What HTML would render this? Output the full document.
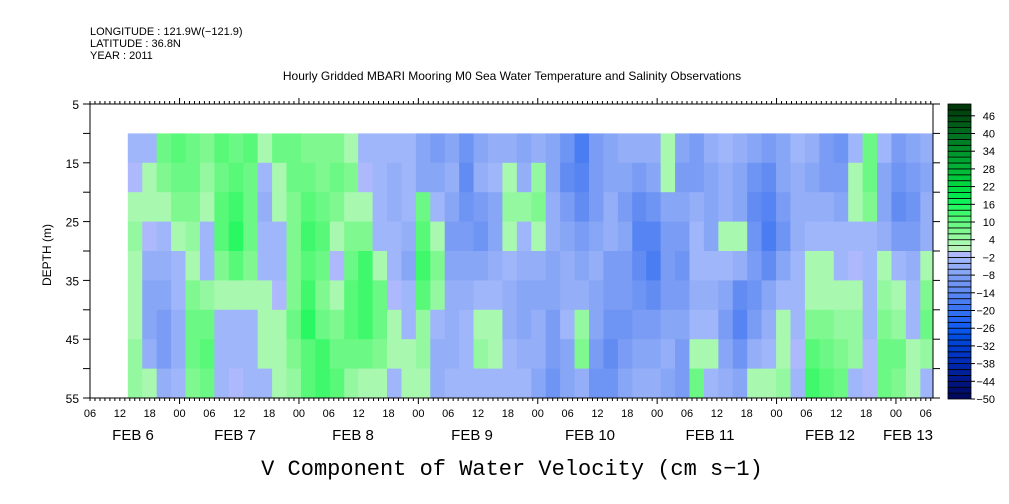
<!DOCTYPE html>
<html><head><meta charset="utf-8">
<style>
html,body{margin:0;padding:0;background:#fff;}
svg{display:block;font-family:"Liberation Sans",sans-serif;}
</style></head>
<body>
<svg id="chart" width="1009" height="504" viewBox="0 0 1009 504" xmlns="http://www.w3.org/2000/svg">
  <g font-size="11" fill="#000">
    <text x="90" y="35">LONGITUDE : 121.9W(−121.9)</text>
    <text x="90" y="47">LATITUDE : 36.8N</text>
    <text x="90" y="59">YEAR : 2011</text>
  </g>
  <text x="512" y="80" font-size="12" text-anchor="middle">Hourly Gridded MBARI Mooring M0 Sea Water Temperature and Salinity Observations</text>
  <text x="0" y="0" font-size="12" text-anchor="middle" transform="translate(51,255) rotate(-90)">DEPTH (m)</text>
  <text x="512" y="475" font-size="22" text-anchor="middle" font-family="Liberation Mono, monospace">V Component of Water Velocity (cm s−1)</text>
  <g id="cells"></g>
  <g id="axes"></g>
  <g id="cbar"></g>
</svg>
<script>
// column start times: hours after Feb 6 00:00
const times = [13.6,16.5,19.4,22.3,25.2,28.1,31.0,33.9,36.8,39.7,42.6,45.5,48.4,51.3,54.2,57.1,59.9,62.8,65.7,68.6,71.5,74.4,77.3,80.2,83.1,86.0,88.9,91.8,94.7,97.6,100.5,103.4,106.3,109.2,112.1,115.0,117.8,120.7,123.6,126.5,129.4,132.3,135.2,138.1,141.0,143.9,146.8,149.7,152.6,155.5,158.4,161.3,164.2,167.1,170.0,172.9];
const depthEdges = [10,15,20,25,30,35,40,45,50,55];
// values per column (top to bottom depth rows), cm/s
const values = [
[-4,-2,3,4,2,3,3,4,4],[-4,2,3,-2,-6,-8,-8,-6,3],[8,6,3,-4,-6,-8,-10,-10,-6],[10,8,6,3,-4,-4,-6,-6,-4],
[8,8,6,5,3,6,8,8,6],[6,5,3,-3,-4,4,8,10,8],[10,8,10,10,6,3,-3,-4,-4],[8,10,12,14,10,3,-3,-4,-2],
[10,8,8,8,6,3,-3,-4,-4],[3,-4,-6,-4,-4,3,3,3,-4],[8,3,3,-4,-4,-2,3,3,2],[8,8,6,6,6,6,8,6,4],
[6,8,10,12,10,12,14,10,10],[6,6,8,10,8,6,8,12,12],
[6,8,6,3,-2,3,6,8,10],[3,6,3,6,8,10,10,8,4],[-4,-2,3,6,12,12,12,8,3],[-4,-4,-4,-3,3,8,8,6,3],
[-4,-6,-6,-4,-4,-2,3,3,-4],[-4,-4,-4,-6,-8,-4,-4,3,3],[-8,-8,8,10,12,10,4,4,3],[-10,-8,-4,3,6,4,-4,-6,-6],
[-8,-6,-8,-10,-8,-6,-6,-6,-4],[-12,-14,-12,-10,-8,-6,-4,-4,-4],[-8,-6,-10,-12,-8,-4,3,4,-4],[-6,-4,-8,-8,-6,-4,3,3,-4],
[-6,3,4,3,-4,-6,-6,-4,-4],[-8,-6,4,-4,-6,-8,-8,-6,-4],[-6,4,6,3,-6,-8,-6,-6,-8],
[-8,-8,-6,-6,-8,-8,-10,-10,-12],[-12,-14,-10,-8,-6,-6,-4,-8,-8],[-18,-16,-14,-10,-8,-6,4,6,-6],[-10,-10,-10,-8,-6,-8,-8,-10,-12],
[-8,-8,-6,-6,-10,-10,-12,-14,-12],[-6,-8,-10,-8,-10,-10,-12,-10,-8],[-6,-10,-14,-16,-14,-12,-10,-8,-6],[-6,-8,-12,-16,-18,-14,-10,-8,-6],
[3,3,-8,-10,-10,-10,-8,-6,-8],[-8,-10,-8,-10,-12,-10,-8,-10,-10],[-10,-10,-6,-4,-4,-6,-4,3,8],[-6,-8,-8,-8,-4,-6,-4,3,-4],
[-4,-6,-6,3,-4,-8,-10,-8,-6],[-6,-8,-8,3,-6,-14,-16,-12,-8],
[-8,-12,-14,-12,-10,-12,-10,-6,3],[-10,-14,-16,-18,-14,-8,-6,-4,3],[-8,-8,-10,-12,-8,-4,3,3,4],[-4,-6,-6,-6,-4,-4,-4,-2,-4],
[-6,-8,-6,-4,3,3,6,10,12],[-10,-10,-6,-4,3,3,6,8,10],[-12,-10,-8,-4,-4,3,4,6,8],[-4,3,3,-4,-2,3,4,4,-4],
[8,8,6,-4,-4,-4,-4,-2,-2],[-4,-8,-8,-6,3,4,6,8,8],[-10,-12,-14,-10,-4,3,4,8,6],[-8,-10,-12,-10,-6,-4,-4,3,3],
[-6,-8,-6,-6,3,6,8,4,-4]
];
const cbLevels = [];
for (let v = -50; v < 50; v += 2) cbLevels.push(v);
const cbLabels = [46,40,34,28,22,16,10,4,-2,-8,-14,-20,-26,-32,-38,-44,-50];
const depthTicks = [5,15,25,35,45,55];
const tickNames = ["06","12","18","00"];
const dayLabels = ["FEB  6","FEB  7","FEB  8","FEB  9","FEB 10","FEB 11","FEB 12","FEB 13"];
const dayLabelX = [133,235,353,472,590,710,830,908];

const palette = ["#000a5c","#000e6e","#00147e","#001a8e","#00209a","#0026a8","#002cb6","#0034c2","#003ccc","#0044d6",
"#004ce0","#0a56ea","#165ef0","#2466f2","#306ef2","#3c74f2","#4a7cf2","#5684f2","#628cf2","#6e94f4",
"#7a9cf4","#88a6f6","#94aef8","#a0b6fa","#aeb8fc","#b8f4b8","#a8f8b0","#94f8a0","#80f890","#6cf884",
"#58f878","#40f86c","#28f862","#10f058","#00e84e","#00e046","#00d440","#00c83c","#00bc38","#00b034",
"#00a430","#00982c","#008c28","#008024","#007420","#00681c","#005c18","#005014","#00440f","#00380c"];

const NS = "http://www.w3.org/2000/svg";
const X0 = 90, X1 = 933, Y0 = 104, Y1 = 398;
const xs = t => 90 + 4.975 * (t - 6);
const ys = d => Y0 + (d - 5) * (Y1 - Y0) / 50;
function color(v){ let k = Math.floor((v + 50) / 2); k = Math.max(0, Math.min(49, k)); return palette[k]; }
function mk(tag, attrs, parent){ const e = document.createElementNS(NS, tag); for (const k in attrs) e.setAttribute(k, attrs[k]); parent.appendChild(e); return e; }

const cells = document.getElementById('cells');
values.forEach((col, i) => {
  const xa = xs(times[i]);
  const xb = Math.min(X1, xs(i + 1 < times.length ? times[i + 1] : times[i] + 2.9));
  col.forEach((v, r) => {
    const ya = ys(depthEdges[r]), yb = ys(depthEdges[r + 1]);
    const c = mk('rect', {x: xa, y: ya, width: Math.max(0, xb - xa + 0.5), height: yb - ya + 0.5, fill: color(v)}, cells);
    
    
  });
});

const ax = document.getElementById('axes');
const frame = mk('rect', {x: X0, y: Y0, width: X1 - X0, height: Y1 - Y0, fill: 'none', stroke: '#000', 'stroke-width': 1}, ax);


for (let t = 6; t <= 175; t++) {
  const x = xs(t);
  if (x > X1) break;
  const major = t % 24 === 0;
  const len = major ? 6 : 3;
  mk('line', {x1: x, x2: x, y1: Y1, y2: Y1 + len, stroke: '#000'}, ax);
  mk('line', {x1: x, x2: x, y1: Y0, y2: Y0 - len, stroke: '#000'}, ax);
}
for (let k = 0; k <= 28; k++) {
  const t = 6 + 6 * k;
  const lb = mk('text', {x: xs(t), y: 417, 'font-size': 11, 'text-anchor': 'middle'}, ax);
  lb.textContent = tickNames[k % 4];
  
  
}
dayLabels.forEach((s, i) => {
  const lb = mk('text', {x: dayLabelX[i], y: 440, 'font-size': 15, 'text-anchor': 'middle', 'xml:space': 'preserve'}, ax);
  lb.textContent = s;
  
  
});
for (let d = 5; d <= 55; d += 5) {
  const y = ys(d);
  mk('line', {x1: X0 - 7, x2: X0, y1: y, y2: y, stroke: '#000'}, ax);
  mk('line', {x1: X1, x2: X1 + 7, y1: y, y2: y, stroke: '#000'}, ax);
}
depthTicks.forEach(d => {
  const lb = mk('text', {x: 79, y: ys(d) + 5, 'font-size': 12, 'text-anchor': 'end'}, ax);
  lb.textContent = d;
  
  
});

const cb = document.getElementById('cbar');
const CBX = 948, CBW = 23, CBT = 104, CBB = 399, bh = (CBB - CBT) / cbLevels.length;
const cbY = v => CBB - (v + 50) / 2 * bh;
cbLevels.forEach(v => {
  const r = mk('rect', {x: CBX, y: cbY(v) - bh, width: CBW, height: bh, fill: color(v + 1), stroke: '#000', 'stroke-width': 0.8}, cb);
  
  
});
cbLabels.forEach(v => {
  const y = cbY(v);
  mk('line', {x1: CBX + CBW, x2: CBX + CBW + 4, y1: y, y2: y, stroke: '#000'}, cb);
  const lb = mk('text', {x: 995, y: y + 4, 'font-size': 11, 'text-anchor': 'end'}, cb);
  lb.textContent = v < 0 ? '−' + (-v) : String(v);
  
  
});
</script>
</body></html>
